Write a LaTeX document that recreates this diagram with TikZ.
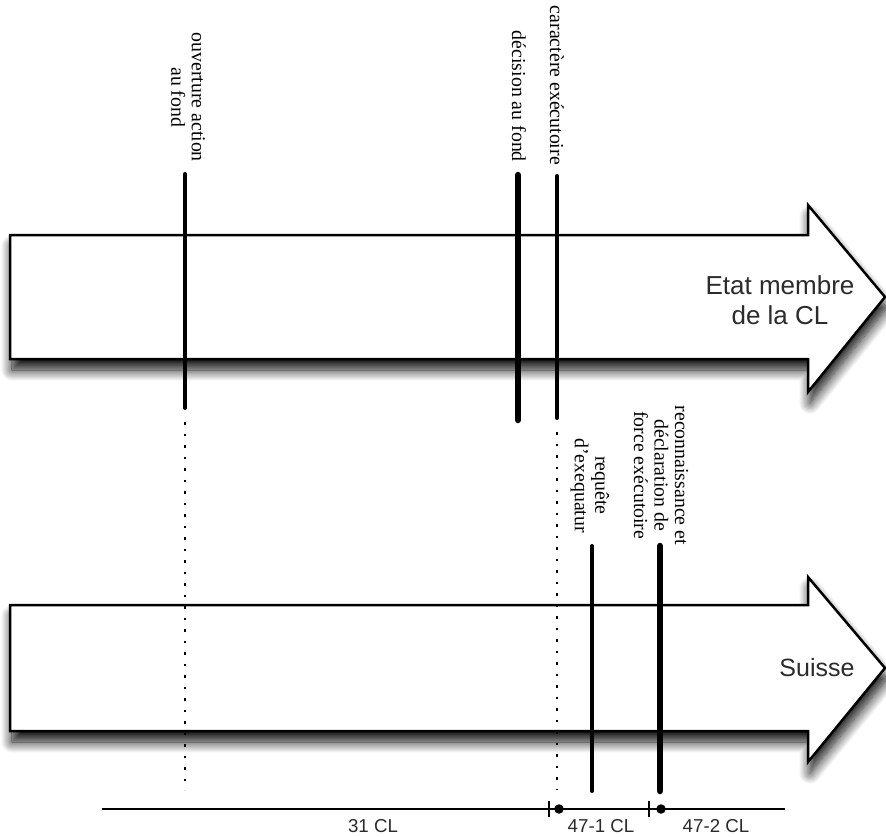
\documentclass[tikz,border=0pt]{standalone}
\usepackage{fontspec}
\setmainfont{Liberation Serif}
\newfontfamily\sansf{Liberation Sans}
\usetikzlibrary{shadows.blur}
\definecolor{labelgray}{HTML}{2B2B2B}
\tikzset{
  bigarrow/.style={draw=black, line width=2.5pt, fill=white, line join=miter,
    blur shadow={shadow xshift=2pt, shadow yshift=-11pt, shadow blur radius=11pt, shadow blur steps=14, shadow opacity=95}},
  marker/.style={line width=4pt, line cap=round},
  thickmarker/.style={line width=6.5pt, line cap=round},
  dotline/.style={line width=2.2pt, dash pattern=on 2.5pt off 9pt},
  vlabel/.style={rotate=-90, anchor=east, inner sep=0pt, align=center,
    font=\fontsize{19.8}{20.5}\selectfont},
  arrowlabel/.style={inner sep=0pt, align=center, text=labelgray,
    font=\sansf\fontsize{26}{30}\selectfont},
  scalelabel/.style={inner sep=0pt, text=labelgray, font=\sansf\fontsize{18.7}{22}\selectfont},
  timeline/.style={line width=1.6pt},
}
\begin{document}
\begin{tikzpicture}[x=1pt,y=-1pt]
\useasboundingbox (0,0) rectangle (886,836);
% arrows
\path[bigarrow] (10,235) -- (808,235) -- (808,205) -- (885,297) -- (808,392) -- (808,359) -- (10,359) -- cycle;
\path[bigarrow] (10,605) -- (808,605) -- (808,577) -- (885,668) -- (808,762) -- (808,731) -- (10,731) -- cycle;
\node[arrowlabel] (etat) at (780,300) {Etat membre\\de la CL};
\node[arrowlabel, font=\sansf\fontsize{25}{30}\selectfont] (suisse) at (817,668) {Suisse};

% markers upper
\coordinate (ouvTop) at (185,174);
\coordinate (ouvEnd) at (185,408);
\coordinate (ouvDot) at (185,790);
\draw[marker] (ouvTop) -- (ouvEnd);
\draw[dotline] ([yshift=-14pt]ouvEnd) -- (ouvDot);

\coordinate (decTop) at (518,175);
\coordinate (decEnd) at (518,420);
\draw[thickmarker] (decTop) -- (decEnd);

\coordinate (carTop) at (557,176);
\coordinate (carEnd) at (557,418);
\coordinate (carDot) at (557,790);
\draw[marker] (carTop) -- (carEnd);
\draw[dotline] ([yshift=-14pt]carEnd) -- (carDot);

% markers lower
\coordinate (reqTop) at (592,546);
\coordinate (reqEnd) at (592,791);
\draw[marker] (reqTop) -- (reqEnd);
\coordinate (recTop) at (660,546);
\coordinate (recEnd) at (660,791);
\draw[thickmarker] (recTop) -- (recEnd);

% vertical labels
\node[vlabel] (ouvLbl) at (188,162) {ouverture action\\au fond};
\node[vlabel] (decLbl) at (519,162) {décision au fond};
\node[vlabel] (carLbl) at (557,165) {caractère exécutoire};
\node[vlabel] (reqLbl) at (590,533) {requête\\d'exequatur};
\node[vlabel] (recLbl) at (661,545) {reconnaissance et\\déclaration de\\force exécutoire};

% bottom timeline
\coordinate (tlA) at (102,809);
\coordinate (tick1) at (549,809);
\coordinate (tick2) at (649,809);
\coordinate (tlB) at (785,809);
\draw[timeline] (tlA) -- (tlB);
\draw[timeline] ([yshift=8pt]tick1) -- ([yshift=-8pt]tick1);
\draw[timeline] ([yshift=8pt]tick2) -- ([yshift=-8pt]tick2);
\node[circle, fill=black, inner sep=0pt, minimum size=9.5pt] (dot1) at (559,809) {};
\node[circle, fill=black, inner sep=0pt, minimum size=9.5pt] (dot2) at (661,809) {};
\node[scalelabel] (l31) at (373,826) {31 CL};
\node[scalelabel] (l471) at (601,826) {47-1 CL};
\node[scalelabel] (l472) at (716,826) {47-2 CL};
\end{tikzpicture}
\end{document}
